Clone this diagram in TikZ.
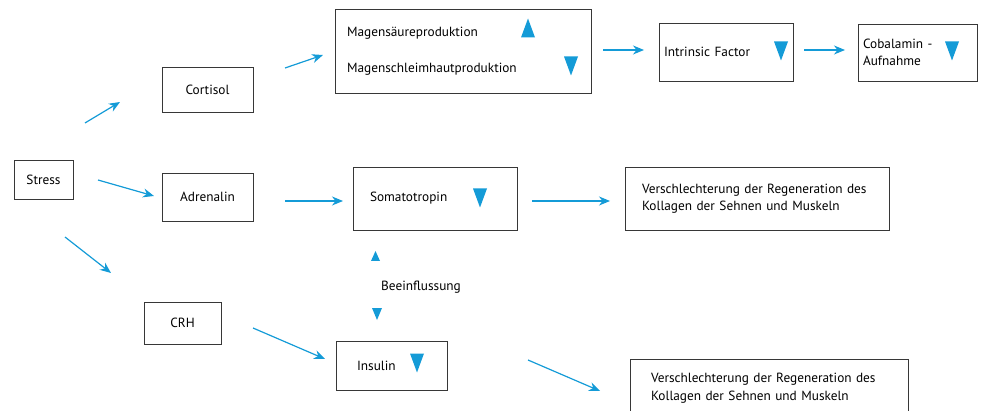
\documentclass[tikz,border=0pt]{standalone}
\usepackage{fontspec}
\setmainfont{PT Sans}
\usetikzlibrary{arrows.meta}
\definecolor{flowblue}{RGB}{20,155,215}
\definecolor{boxgray}{RGB}{55,55,55}
\begin{document}
\begin{tikzpicture}[x=1pt,y=-1pt,
  box/.style={draw=boxgray, line width=0.9pt, rectangle, inner ysep=0pt,
    font=\fontsize{13.3}{17.5}\selectfont},
  tbox/.style={box, align=left},
  flow/.style={-{Stealth[length=11pt,width=9pt,inset=3.5pt]}, draw=flowblue, line width=1.2pt}]
\useasboundingbox (0,0) rectangle (981,411);
\clip (0,0) rectangle (981,411);
\node[box, minimum width=59, minimum height=39] (stress) at (43.5,179.5) {Stress};
\node[box, minimum width=91, minimum height=45] (cortisol) at (207.5,89.5) {Cortisol};
\node[box, minimum width=91, minimum height=48] (adrenalin) at (207.5,197) {Adrenalin};
\node[box, minimum width=77, minimum height=42] (crh) at (182.5,323) {CRH};
\node[tbox, minimum height=84, inner xsep=12, text width=232] (magen) at (463,51)
  {Magensäureproduktion\\[18.5pt]Magenschleimhautproduktion};
\node[tbox, minimum height=58, inner xsep=5, text width=124] (intrinsic) at (726,52) {Intrinsic Factor};
\node[tbox, minimum height=57, inner xsep=5, text width=109] (cobalamin) at (917.5,52.5) {Cobalamin -\\Aufnahme};
\node[tbox, minimum height=63, inner xsep=17, text width=130] (somato) at (435,198.5) {Somatotropin};
\node[tbox, minimum height=49, inner xsep=21, text width=69] (insulin) at (391.5,365.5) {Insulin};
\node[tbox, minimum height=63, inner xsep=17, text width=230] (versch1) at (757,198.5)
  {Verschlechterung der Regeneration des\\Kollagen der Sehnen und Muskeln};
\node[tbox, minimum height=58, inner xsep=21, text width=236] (versch2) at (769,388)
  {Verschlechterung der Regeneration des\\Kollagen der Sehnen und Muskeln};
\node[font=\fontsize{13.3}{15}\selectfont] (beein) at (421,287) {Beeinflussung};
%
\coordinate (s1) at (85,123);   \coordinate (e1) at (120,102);
\coordinate (s2) at (98,180);   \coordinate (e2) at (154,196);
\coordinate (s3) at (65,237);   \coordinate (e3) at (111,273);
\coordinate (s4) at (285,68);   \coordinate (e4) at (323,55);
\coordinate (s5) at (285,201);  \coordinate (e5) at (343,201);
\coordinate (s6) at (253,328);  \coordinate (e6) at (325,359);
\coordinate (s7) at (603,50);   \coordinate (e7) at (644,50);
\coordinate (s8) at (804,50);   \coordinate (e8) at (845,50);
\coordinate (s9) at (532,201);  \coordinate (e9) at (610,201);
\coordinate (s10) at (528,360); \coordinate (e10) at (600,391);
\foreach \i in {1,...,10}
  \draw [flow] (s\i) -- (e\i);
%
\fill[flowblue] (521,37.5) -- (535,37.5) -- (528,18.5) -- cycle;
\foreach \x/\y in {571/66, 781/51, 952/51, 480/198, 417/363}
  \fill[flowblue] (\x-7,\y-9.5) -- (\x+7,\y-9.5) -- (\x,\y+9.5) -- cycle;
\fill[flowblue] (371,261) -- (380,261) -- (375.5,251) -- cycle;
\fill[flowblue] (372,308) -- (382,308) -- (377,320) -- cycle;
\end{tikzpicture}
\end{document}
